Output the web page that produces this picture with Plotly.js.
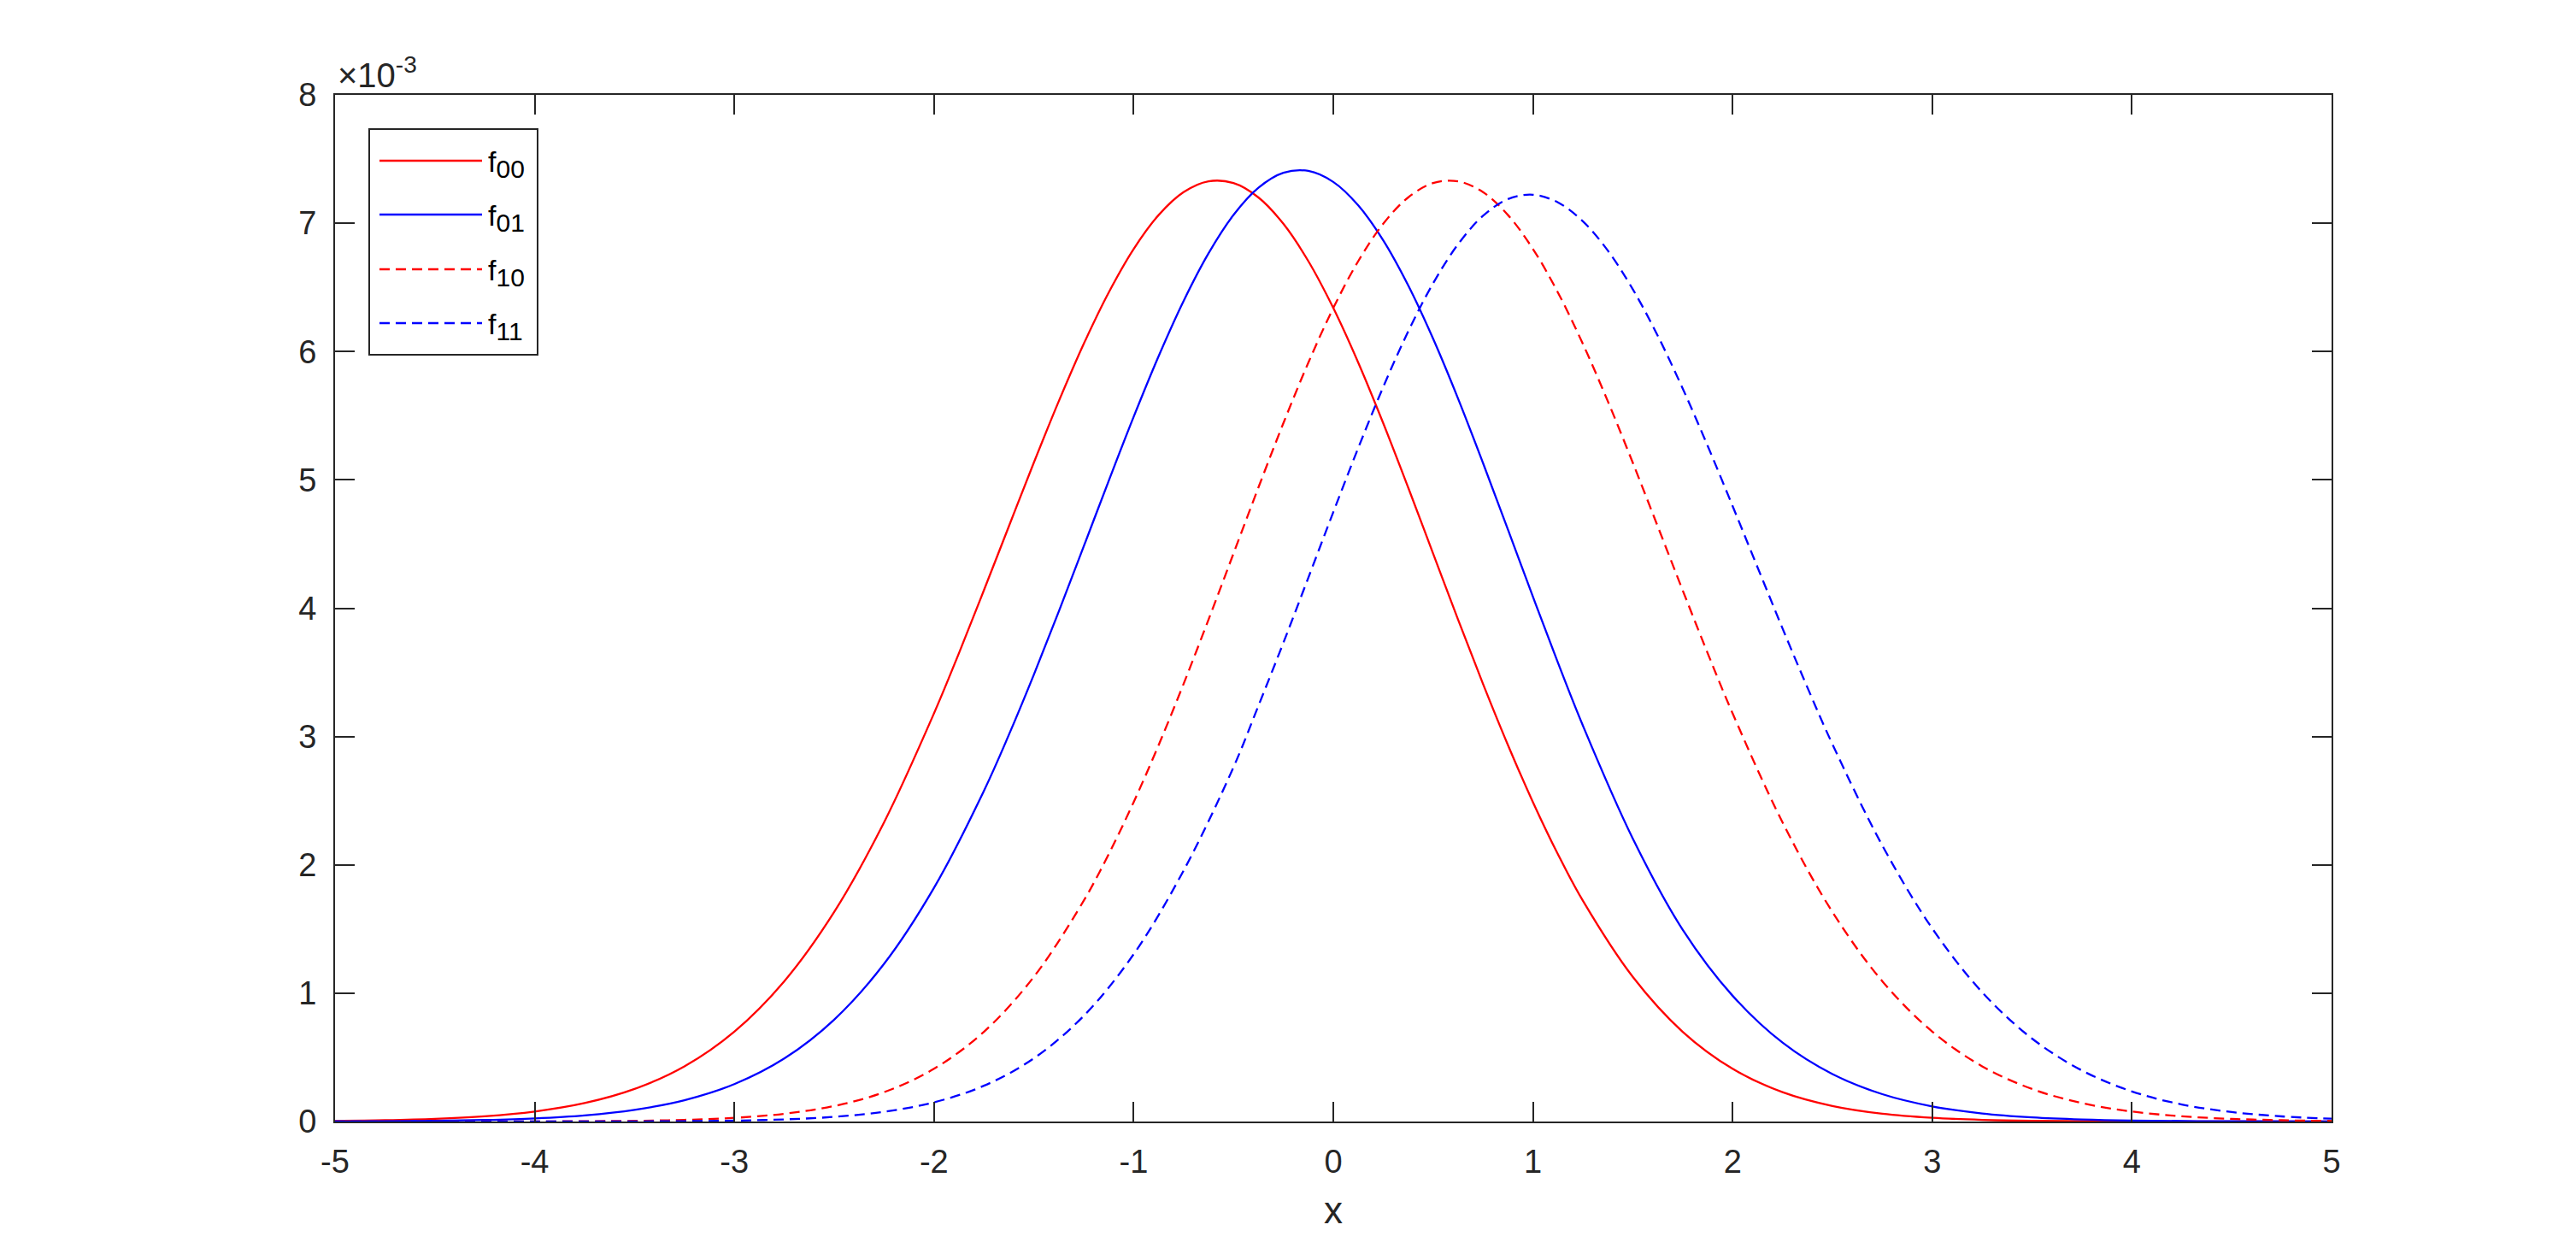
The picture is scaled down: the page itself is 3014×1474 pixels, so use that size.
<!DOCTYPE html>
<html>
<head>
<meta charset="utf-8">
<script src="https://cdn.plot.ly/plotly-3.0.1.min.js"></script>
<style>
  html, body { margin: 0; padding: 0; background: #ffffff; }
  #chart { width: 3014px; height: 1474px; }
</style>
</head>
<body>
<div id="chart"></div>
<script>
// ---- Data (y in units of 1) ----
var seriesNames = ['f<sub>00</sub>', 'f<sub>01</sub>', 'f<sub>10</sub>', 'f<sub>11</sub>'];
var legendSubs = ['00', '01', '10', '11'];

var x00 = [-5, -4.75, -4.5, -4.25, -4, -3.75, -3.5, -3.25, -3, -2.75, -2.5, -2.25, -2, -1.875, -1.75, -1.625, -1.5, -1.375, -1.25, -1.125, -1, -0.875, -0.75, -0.625, -0.5, -0.375, -0.25, -0.125, 0, 0.125, 0.25, 0.375, 0.5, 0.625, 0.75, 0.875, 1, 1.125, 1.25, 1.5, 1.75, 2, 2.25, 2.5, 2.75, 3, 3.25, 3.5, 4, 4.5, 5];
var y00 = [0.00000466, 0.00000995, 0.0000205, 0.0000408, 0.0000780, 0.0001433, 0.0002536, 0.0004302, 0.0007008, 0.0010931, 0.0016327, 0.0023318, 0.0031806, 0.0036498, 0.0041396, 0.0046377, 0.0051338, 0.0056126, 0.0060599, 0.0064601, 0.0067992, 0.0070634, 0.0072420, 0.0073265, 0.0073127, 0.0072008, 0.0069953, 0.0067044, 0.0063392, 0.0059134, 0.0054419, 0.0049409, 0.0044258, 0.0039111, 0.0034099, 0.0029329, 0.0024885, 0.0020832, 0.0017206, 0.0011272, 0.0006992, 0.0004110, 0.0002287, 0.0001208, 0.0000604, 0.0000286, 0.0000128, 0.0000054, 0.0000008, 0.0000001, 0.0000000];

var x01 = [-5, -4.75, -4.5, -4.25, -4, -3.75, -3.5, -3.25, -3, -2.75, -2.5, -2.25, -2, -1.75, -1.625, -1.5, -1.375, -1.25, -1.125, -1, -0.875, -0.75, -0.625, -0.5, -0.375, -0.25, -0.125, 0, 0.125, 0.25, 0.375, 0.5, 0.625, 0.75, 0.875, 1, 1.125, 1.25, 1.5, 1.75, 2, 2.25, 2.5, 2.75, 3, 3.25, 3.5, 3.75, 4, 4.5, 5];
var y01 = [0.00000113, 0.00000256, 0.00000563, 0.0000119, 0.0000243, 0.0000479, 0.0000910, 0.0001660, 0.0002915, 0.0004910, 0.0007940, 0.0012288, 0.0018207, 0.0025767, 0.0030131, 0.0034814, 0.0039741, 0.0044815, 0.0049921, 0.0054914, 0.0059638, 0.0063937, 0.0067653, 0.0070637, 0.0072761, 0.0073927, 0.0074075, 0.0073214, 0.0071387, 0.0068667, 0.0065158, 0.0060994, 0.0056329, 0.0051309, 0.0046116, 0.0040887, 0.0035759, 0.0030854, 0.0022051, 0.0014947, 0.0009800, 0.0006148, 0.0003695, 0.0002130, 0.0001180, 0.0000629, 0.0000323, 0.0000159, 0.0000076, 0.0000016, 0.0000003];

var x10 = [-5, -4.5, -4, -3.5, -3.25, -3, -2.75, -2.5, -2.25, -2, -1.75, -1.5, -1.25, -1.125, -1, -0.875, -0.75, -0.625, -0.5, -0.375, -0.25, -0.125, 0, 0.125, 0.25, 0.375, 0.5, 0.625, 0.75, 0.875, 1, 1.125, 1.25, 1.375, 1.5, 1.625, 1.75, 1.875, 2, 2.25, 2.5, 2.75, 3, 3.25, 3.5, 3.75, 4, 4.25, 4.5, 4.75, 5];
var y10 = [0.0000000, 0.0000001, 0.0000008, 0.0000054, 0.0000128, 0.0000286, 0.0000604, 0.0001208, 0.0002287, 0.0004110, 0.0006992, 0.0011272, 0.0017206, 0.0020832, 0.0024885, 0.0029329, 0.0034099, 0.0039111, 0.0044258, 0.0049409, 0.0054419, 0.0059134, 0.0063392, 0.0067044, 0.0069953, 0.0072008, 0.0073127, 0.0073265, 0.0072420, 0.0070634, 0.0067992, 0.0064601, 0.0060599, 0.0056126, 0.0051338, 0.0046377, 0.0041396, 0.0036498, 0.0031806, 0.0023318, 0.0016327, 0.0010931, 0.0007008, 0.0004302, 0.0002536, 0.0001433, 0.0000780, 0.0000408, 0.0000205, 0.00000995, 0.00000466];

var x11 = [-5, -4.5, -4, -3.5, -3.25, -3, -2.75, -2.5, -2.25, -2, -1.75, -1.5, -1.25, -1, -0.75, -0.5, -0.375, -0.25, -0.125, 0, 0.125, 0.25, 0.375, 0.5, 0.625, 0.75, 0.875, 1, 1.125, 1.25, 1.375, 1.5, 1.625, 1.75, 1.875, 2, 2.125, 2.25, 2.375, 2.5, 2.75, 3, 3.25, 3.5, 3.75, 4, 4.25, 4.5, 4.75, 5];
var y11 = [0.0000000, 0.0000000, 0.0000001, 0.0000011, 0.0000029, 0.0000072, 0.0000166, 0.0000365, 0.0000759, 0.0001495, 0.0002788, 0.0004924, 0.0008234, 0.0013038, 0.0019549, 0.0027608, 0.0032398, 0.0037308, 0.0042379, 0.0047487, 0.0052491, 0.0057234, 0.0061560, 0.0065317, 0.0068362, 0.0070580, 0.0071883, 0.0072218, 0.0071623, 0.0070150, 0.0067866, 0.0064856, 0.0061233, 0.0057119, 0.0052653, 0.0047962, 0.0043184, 0.0038430, 0.0033812, 0.0029406, 0.0021506, 0.0015046, 0.0010072, 0.0006463, 0.0003976, 0.0002345, 0.0001328, 0.0000740, 0.0000400, 0.0000220];

var xTicks = [-5, -4, -3, -2, -1, 0, 1, 2, 3, 4, 5];
var yTickVals = [0, 0.001, 0.002, 0.003, 0.004, 0.005, 0.006, 0.007, 0.008];
var yTickText = ['0', '1', '2', '3', '4', '5', '6', '7', '8'];
var xLabel = 'x';
var yExponent = '×10<sup>-3</sup>';

// ---- Styling ----
var RED = '#ff0000', BLUE = '#0000ff', AXC = '#262626';
var FONT = 'Liberation Sans, Arial, Helvetica, sans-serif';
var LW = 2.3;
var DASH = '12px,7px';

var W = 3014, H = 1474;
var L = 392, R = 2728, T = 111, B = 1312;
function px(X) { return (X - L) / (R - L); }
function py(Y) { return (B - Y) / (B - T); }

var styles = [
  {color: RED, dash: 'solid'},
  {color: BLUE, dash: 'solid'},
  {color: RED, dash: DASH},
  {color: BLUE, dash: DASH}
];
var xs = [x00, x01, x10, x11];
var ys = [y00, y01, y10, y11];

var traces = xs.map(function (xv, i) {
  return {
    x: xv, y: ys[i], type: 'scatter', mode: 'lines',
    name: seriesNames[i],
    line: {color: styles[i].color, dash: styles[i].dash, width: LW, shape: 'spline', smoothing: 1},
    showlegend: false,
    hoverinfo: 'x+y+name'
  };
});

// manual legend (MATLAB style)
var shapes = [{
  type: 'rect', xref: 'paper', yref: 'paper',
  x0: px(432), x1: px(629), y0: py(415), y1: py(151),
  line: {color: AXC, width: 2}, fillcolor: 'rgba(255,255,255,1)', layer: 'above'
}];
var annotations = [];
var legendY = [188, 251, 315, 378];
for (var i = 0; i < 4; i++) {
  shapes.push({
    type: 'line', xref: 'paper', yref: 'paper',
    x0: px(444), x1: px(564), y0: py(legendY[i]), y1: py(legendY[i]),
    line: {color: styles[i].color, dash: styles[i].dash, width: LW}, layer: 'above'
  });
  annotations.push({
    xref: 'paper', yref: 'paper', x: px(569), y: py(legendY[i] + 4),
    xanchor: 'left', yanchor: 'middle', showarrow: false,
    text: 'f<sub><span style="font-size:30px">' + legendSubs[i] + '</span></sub>',
    font: {family: FONT, size: 34, color: '#000000'}
  });
}
annotations.push({
  xref: 'paper', yref: 'paper', x: px(393), y: py(112),
  xanchor: 'left', yanchor: 'bottom', showarrow: false,
  text: yExponent,
  font: {family: FONT, size: 40, color: AXC}
});

var axisCommon = {
  showgrid: false, zeroline: false,
  showline: true, linecolor: AXC, linewidth: 2, mirror: 'ticks',
  ticks: 'inside', ticklen: 23, tickwidth: 2, tickcolor: AXC,
  tickfont: {family: FONT, size: 38, color: AXC}
};

var layout = {
  width: W, height: H,
  margin: {l: L, r: W - R, t: T, b: H - B, pad: 0},
  paper_bgcolor: '#ffffff', plot_bgcolor: '#ffffff',
  showlegend: false,
  xaxis: Object.assign({}, axisCommon, {
    range: [-5, 5], tickmode: 'array', tickvals: xTicks,
    ticktext: xTicks.map(String),
    ticklabelstandoff: 12,
    title: {text: xLabel, font: {family: FONT, size: 44, color: AXC}, standoff: 22}
  }),
  yaxis: Object.assign({}, axisCommon, {
    range: [0, 0.008], tickmode: 'array', tickvals: yTickVals, ticktext: yTickText,
    ticklabelstandoff: 12
  }),
  shapes: shapes,
  annotations: annotations
};

Plotly.newPlot('chart', traces, layout, {displayModeBar: false, staticPlot: true});
</script>
</body>
</html>
